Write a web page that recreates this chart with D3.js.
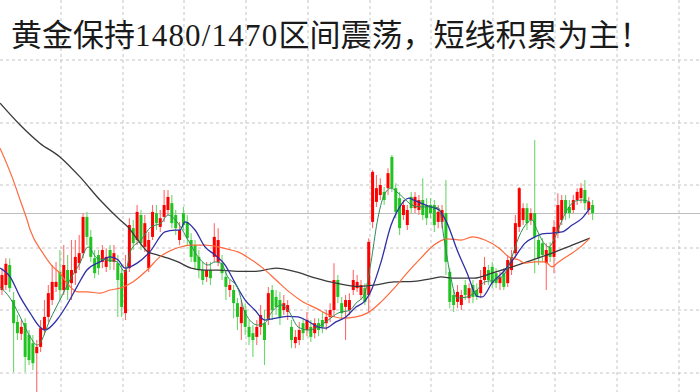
<!DOCTYPE html>
<html><head><meta charset="utf-8">
<script src="https://cdn.jsdelivr.net/npm/d3@7/dist/d3.min.js"></script>
<style>html,body{margin:0;padding:0;background:#fff;overflow:hidden}</style>
</head><body><svg id="c" width="700" height="392"></svg>
<script>
const titleParts = ["黄金保持", "1480/1470", "区间震荡，短线积累为主！"];

const opens = [
1493.1,1493.9,1497.1,1491.5,1488.0,1486.1,1487.8,1485.9,1484.6,1483.0,
1484.0,1486.7,1488.8,1491.5,1493.6,1496.0,1493.1,1496.3,1494.2,1495.8,
1497.4,1499.0,1504.8,1501.6,1498.2,1498.7,1497.6,1496.8,1499.5,1497.6,
1497.4,1495.8,1489.4,1496.6,1503.0,1501.1,1505.1,1500.0,1496.6,1501.6,
1505.4,1503.2,1504.8,1505.9,1507.0,1505.1,1501.1,1505.4,1504.0,1501.1,
1500.3,1498.4,1496.3,1495.2,1496.3,1498.4,1497.6,1497.4,1495.2,1493.1,
1493.1,1491.0,1487.8,1489.9,1487.2,1486.2,1485.6,1487.2,1487.8,1488.3,
1493.1,1492.0,1491.5,1489.9,1489.6,1487.2,1484.6,1485.1,1487.8,1486.7,
1487.2,1486.2,1487.8,1488.3,1487.8,1488.8,1489.9,1494.7,1491.0,1490.4,
1489.9,1493.1,1493.4,1492.3,1493.4,1492.3,1504.0,1507.2,1508.3,1508.8,
1509.4,1514.4,1509.4,1507.8,1505.1,1503.5,1508.0,1506.2,1505.9,1507.5,
1506.7,1506.7,1506.7,1504.0,1504.0,1505.4,1496.0,1492.3,1491.2,1490.7,
1493.9,1491.8,1493.9,1493.1,1492.6,1494.7,1496.3,1496.8,1495.8,1494.2,
1495.8,1494.2,1496.3,1499.0,1503.2,1504.3,1506.2,1504.3,1505.4,1501.1,
1500.6,1497.4,1500.0,1498.4,1502.2,1504.3,1507.5,1506.4,1505.9,1507.5,
1507.8,1509.1,1505.9,1506.7];
const highs = [
1496.6,1498.2,1498.2,1492.8,1489.1,1488.3,1488.6,1486.7,1485.9,1485.1,
1488.3,1491.5,1493.9,1497.1,1497.6,1499.5,1500.3,1498.7,1501.1,1501.1,
1501.9,1505.4,1505.6,1502.7,1499.5,1499.5,1500.3,1499.8,1500.3,1500.3,
1498.7,1497.1,1498.7,1504.6,1504.3,1506.7,1505.9,1505.1,1502.4,1506.7,
1506.7,1505.9,1509.1,1509.1,1508.3,1505.9,1504.0,1506.4,1505.1,1502.2,
1501.1,1499.5,1497.6,1497.6,1497.6,1503.8,1503.0,1498.7,1496.3,1494.7,
1493.9,1491.8,1491.5,1491.0,1488.3,1487.5,1488.3,1490.7,1489.9,1493.6,
1493.9,1493.1,1492.8,1492.3,1491.5,1488.3,1486.7,1488.0,1488.6,1489.6,
1488.3,1488.6,1488.6,1489.6,1489.9,1491.0,1497.4,1495.5,1492.0,1492.3,
1492.6,1496.3,1495.5,1494.7,1494.2,1501.4,1512.3,1511.5,1511.0,1509.6,
1512.6,1514.7,1510.2,1508.8,1507.5,1506.7,1508.8,1508.8,1508.3,1511.0,
1507.8,1507.8,1507.5,1506.7,1506.7,1510.7,1496.6,1493.1,1493.9,1493.1,
1494.7,1494.2,1494.7,1494.2,1496.3,1498.4,1497.1,1497.6,1496.6,1496.0,
1496.6,1498.7,1499.5,1505.1,1509.6,1507.0,1507.0,1506.2,1517.1,1501.9,
1501.4,1500.6,1500.8,1504.3,1508.6,1508.3,1508.3,1507.5,1508.3,1509.4,
1510.2,1510.7,1508.0,1507.5];
const lows = [
1492.3,1493.1,1492.8,1480.0,1485.1,1485.1,1480.0,1481.1,1480.3,1476.8,
1483.2,1485.9,1488.0,1490.7,1492.8,1491.5,1492.3,1491.5,1491.5,1493.9,
1496.3,1498.2,1500.3,1497.6,1495.0,1495.5,1496.6,1496.0,1496.3,1496.3,
1488.8,1488.8,1488.3,1496.0,1499.5,1500.3,1499.5,1499.2,1496.0,1501.1,
1502.7,1502.4,1504.0,1505.1,1503.0,1501.9,1500.3,1502.7,1500.3,1497.6,
1496.3,1495.0,1493.9,1494.4,1493.9,1497.6,1496.9,1494.7,1491.5,1492.0,
1488.6,1486.7,1485.1,1485.9,1484.3,1482.4,1484.3,1485.9,1481.1,1487.5,
1488.3,1489.1,1487.5,1489.1,1488.3,1483.8,1483.8,1484.3,1485.1,1485.7,
1484.8,1485.4,1485.7,1486.2,1486.7,1488.0,1489.1,1491.0,1488.3,1485.1,
1489.1,1492.3,1492.8,1491.5,1490.7,1489.6,1503.0,1506.4,1507.5,1506.7,
1508.3,1508.8,1504.6,1501.9,1504.3,1502.7,1505.4,1505.4,1505.1,1504.3,
1503.5,1504.6,1502.4,1503.0,1503.0,1495.5,1490.2,1489.6,1490.2,1489.9,
1491.5,1491.0,1491.0,1491.5,1491.8,1493.9,1493.9,1493.4,1493.4,1493.1,
1493.1,1493.6,1495.5,1498.2,1502.4,1503.5,1502.7,1503.5,1495.8,1497.1,
1497.6,1493.1,1497.6,1495.8,1501.4,1503.5,1504.3,1504.6,1505.4,1506.7,
1507.0,1505.9,1505.1,1504.3];
const closes = [
1495.5,1497.3,1493.4,1487.8,1486.2,1487.2,1482.4,1481.9,1481.4,1484.0,
1487.0,1488.8,1492.6,1494.4,1494.4,1493.1,1497.1,1493.1,1496.3,1498.4,
1499.0,1504.8,1501.6,1498.4,1495.8,1496.6,1499.5,1498.4,1497.6,1499.0,
1494.7,1490.4,1496.3,1503.5,1500.6,1505.6,1500.6,1503.8,1501.1,1505.6,
1503.8,1504.6,1506.7,1508.0,1503.8,1503.0,1502.7,1503.5,1501.4,1498.4,
1497.6,1496.3,1494.7,1496.3,1495.0,1501.6,1501.1,1495.8,1493.6,1493.9,
1491.0,1488.8,1490.4,1487.2,1485.6,1485.1,1487.2,1489.1,1485.1,1492.6,
1489.9,1490.4,1488.8,1491.0,1490.7,1485.1,1485.6,1486.7,1486.2,1488.3,
1485.6,1487.8,1486.7,1487.2,1488.8,1489.9,1494.7,1492.0,1489.4,1491.5,
1491.5,1494.7,1494.4,1493.9,1491.2,1500.8,1512.0,1509.4,1509.9,1507.5,
1511.8,1509.4,1505.6,1503.0,1506.7,1505.9,1506.2,1508.0,1507.5,1505.1,
1504.6,1505.4,1503.5,1505.6,1505.9,1497.6,1491.2,1490.7,1492.8,1492.3,
1492.3,1493.4,1492.0,1492.0,1494.7,1496.8,1494.7,1494.2,1494.2,1495.2,
1493.6,1497.9,1498.4,1503.8,1509.4,1506.2,1503.8,1505.4,1501.6,1498.2,
1498.7,1499.5,1498.4,1503.2,1506.7,1507.5,1505.4,1505.4,1507.5,1508.8,
1509.4,1507.0,1507.2,1505.4];

// moving averages: [bar index, price]
const maFast = [[-0.5,1493.6],[2.1,1491.8],[4.7,1488.8],[7.3,1485.6],[9.1,1484.3],[9.8,1484.6],[12.4,1488.3],[15,1491.5],[17.6,1494.7],[20.2,1497.4],[22.3,1500.0],[24.6,1498.2],[27.2,1497.9],[29.8,1497.6],[31.9,1496.0],[33.4,1499.5],[36,1501.1],[38.6,1503.2],[41.2,1503.8],[43,1505.1],[45.6,1503.8],[48.2,1501.1],[50.8,1498.4],[53.4,1497.1],[55.2,1497.6],[56.7,1497.4],[58.5,1495.2],[61.1,1493.4],[63,1489.4],[66.3,1487.5],[68.1,1487.8],[69.9,1489.6],[72.5,1490.7],[74.1,1489.9],[76.7,1487.2],[79.3,1486.7],[81.9,1487.2],[84.5,1488.3],[87,1489.4],[90.2,1489.9],[91.7,1491.0],[93.8,1492.3],[95.6,1497.6],[97.2,1504.0],[99,1508.3],[100.8,1509.4],[102.3,1508.8],[104.1,1507.8],[106.2,1506.7],[108.5,1506.4],[111.1,1506.4],[113.2,1506.2],[114.5,1501.4],[116.3,1495.0],[117.9,1491.8],[120.5,1492.0],[122.3,1492.6],[125.1,1494.4],[127.7,1494.7],[130.3,1495.8],[132.1,1498.4],[133.9,1501.6],[136,1503.8],[137.3,1504.3],[138.6,1502.7],[139.9,1501.1],[141.7,1500.0],[143.3,1501.6],[145.1,1504.3],[146.9,1506.4],[148.4,1507.3],[150.3,1507.5],[152.3,1507.2]];
const maMid = [[-0.5,1496.6],[2.1,1495.2],[4.7,1492.0],[7.3,1489.4],[9.8,1487.2],[11.1,1486.7],[14.2,1488.3],[16.8,1490.7],[19.4,1493.6],[22,1496.3],[25.4,1497.6],[28,1498.4],[30.1,1497.9],[31.9,1496.6],[35,1497.4],[38.3,1499.2],[42.2,1502.4],[44.8,1502.7],[46.1,1502.7],[47.4,1504.0],[50,1502.7],[52.6,1500.0],[55.2,1498.7],[57.8,1497.1],[60.4,1494.2],[63,1491.5],[65.5,1489.9],[68.1,1488.3],[71,1488.6],[74.1,1488.9],[76.7,1488.8],[79.3,1488.1],[81.9,1487.2],[83.9,1487.0],[86.5,1488.0],[89.1,1488.8],[91.7,1490.4],[93.8,1491.2],[95.9,1493.4],[98.2,1497.6],[100.8,1503.5],[102.3,1505.6],[105.4,1507.8],[106.7,1507.5],[108.5,1507.0],[111.1,1506.4],[113.2,1505.9],[115.3,1503.8],[117.9,1499.5],[120.5,1495.8],[123.1,1492.1],[124.4,1492.0],[126.9,1494.2],[130.3,1496.3],[132.9,1498.4],[135.5,1500.6],[138.1,1501.6],[139.9,1502.1],[142.5,1502.2],[145.1,1502.4],[147.7,1503.5],[150.3,1504.6],[152.3,1506.2]];
const maSlow = [[-0.5,1515.8],[2.6,1511.2],[4.7,1507.5],[6.5,1504.3],[7.3,1502.7],[10.6,1499.0],[13.2,1496.8],[15,1495.8],[16.8,1494.2],[19.7,1492.8],[22,1492.8],[25.4,1492.6],[28,1493.1],[30.6,1493.4],[33.9,1494.4],[37.6,1496.3],[40.9,1498.4],[44.8,1499.7],[49,1500.3],[52.6,1500.3],[56,1500.0],[59.3,1499.5],[61.1,1499.2],[64,1498.2],[67.6,1496.6],[71,1494.7],[74.4,1492.8],[78,1491.2],[81.3,1490.2],[84.7,1489.1],[88.3,1488.6],[91.7,1488.8],[94.6,1489.4],[98.2,1491.2],[101.6,1493.4],[104.9,1495.8],[108.5,1498.2],[111.9,1500.3],[115.3,1501.3],[118.9,1501.1],[121.8,1501.6],[125.1,1501.1],[128.8,1499.8],[131.3,1498.4],[133.9,1497.9],[135.5,1497.4],[138.1,1497.6],[140.7,1497.6],[142.5,1496.8],[143.8,1497.4],[146.9,1498.7],[149.5,1499.8],[152.3,1501.4]];
const maLong = [[-0.5,1523.0],[4.7,1519.5],[9.8,1516.6],[15,1514.4],[20.2,1511.2],[25.4,1507.5],[30.6,1504.3],[32.6,1503.2],[35.2,1501.1],[37.8,1499.2],[40.4,1498.7],[43,1498.2],[45.6,1497.6],[49,1496.6],[52.6,1496.3],[56,1496.3],[61.1,1496.1],[65.8,1496.1],[71,1496.6],[76.2,1496.0],[81.3,1495.0],[86.5,1494.2],[91.7,1493.7],[96.4,1493.9],[101.6,1494.4],[106.7,1494.5],[111.9,1495.0],[113.7,1495.2],[117.1,1495.0],[122.3,1495.0],[126.9,1495.8],[132.1,1496.8],[137.3,1497.9],[142.5,1499.0],[147.7,1500.3],[152.3,1501.4]];

const gridPrices = [1530,1520,1510,1500,1490,1480];
const gridBars = [15,31,47,63,79,95,111,127,143,159,175];
const lastPrice = 1505.4;

const W = 700, H = 392;
const svg = d3.select("#c");
const x = d3.scaleLinear().domain([0, 153]).range([2, 592.6]);
const y = d3.scaleLinear().domain([1480, 1530]).range([371.9, 59.4]);

// grid
const gy = svg.append("g")
  .call(d3.axisRight(y).tickValues(gridPrices).tickSize(W).tickFormat(""));
gy.select(".domain").remove();
gy.selectAll("line").attr("stroke","#c4c4c4").attr("stroke-dasharray","3,3")
  .attr("transform", d => `translate(0,${Math.round(y(d)) - y(d) + 0.5})`);
const gx = svg.append("g")
  .call(d3.axisBottom(x).tickValues(gridBars).tickSize(H).tickFormat(""));
gx.select(".domain").remove();
gx.selectAll("line").attr("stroke","#c4c4c4").attr("stroke-dasharray","3,3")
  .attr("transform", d => `translate(${Math.round(x(d)) - x(d) + 0.5},0)`);

// last price line
svg.append("line").attr("x1",0).attr("x2",W)
  .attr("y1",Math.round(y(lastPrice))+0.5).attr("y2",Math.round(y(lastPrice))+0.5)
  .attr("stroke","#bdbdbd").attr("stroke-width",1);

// candles
const bars = d3.range(opens.length).map(i => ({i, o:opens[i], h:highs[i], l:lows[i], c:closes[i]}));
const up = "#ff0000", dn = "#1fc41f";
const cg = svg.append("g");
cg.selectAll("line.w").data(bars).join("line").attr("class","w")
  .attr("x1", d => x(d.i)).attr("x2", d => x(d.i))
  .attr("y1", d => y(d.h)).attr("y2", d => y(d.l))
  .attr("stroke", d => d.c >= d.o ? "#ff6b6b" : "#6bd86b").attr("stroke-width",1.1);
cg.selectAll("rect").data(bars).join("rect")
  .attr("x", d => x(d.i) - 1.5).attr("width", 3)
  .attr("y", d => y(Math.max(d.o,d.c)))
  .attr("height", d => Math.max(1, Math.abs(y(d.o) - y(d.c))))
  .attr("fill", d => d.c >= d.o ? up : dn);

// moving averages
const line = d3.line().x(d => x(d[0])).y(d => y(d[1])).curve(d3.curveMonotoneX);
const mas = [
  {d: maLong, c: "#3a3a3a", w: 1.3},
  {d: maSlow, c: "#ff6a3d", w: 1.2},
  {d: maMid, c: "#2f2fa8", w: 1.3},
  {d: maFast, c: "#2e8b57", w: 1.0}
];
mas.forEach(m => svg.append("path").attr("d", line(m.d)).attr("fill","none")
  .attr("stroke", m.c).attr("stroke-width", m.w));

// title
const t = svg.append("text").attr("x", 11).attr("y", 46)
  .attr("font-family", "'Liberation Serif','Noto Sans CJK SC',sans-serif")
  .attr("font-size", 31).attr("fill", "#1a1a1a");
t.append("tspan").text(titleParts[0]);
t.append("tspan").attr("letter-spacing", 1.2).text(titleParts[1]);
t.append("tspan").text(titleParts[2]);
</script></body></html>
